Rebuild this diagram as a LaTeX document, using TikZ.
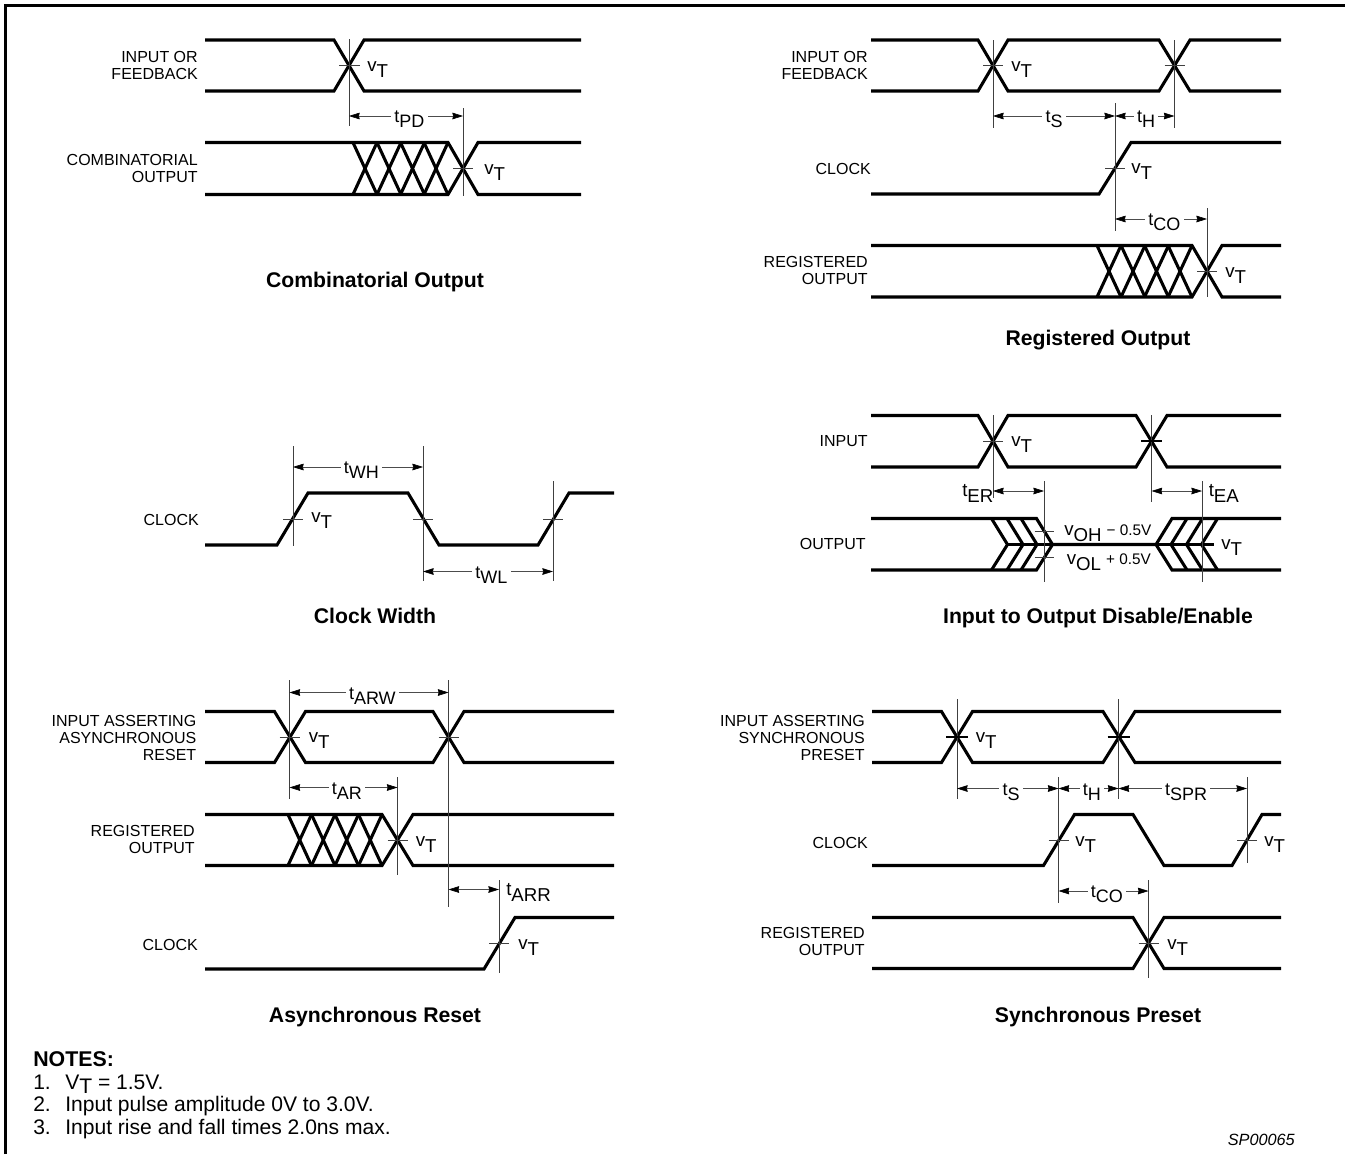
\documentclass[tikz,border=0pt]{standalone}
\usepackage{fontspec}
\setmainfont{Liberation Sans}
\usetikzlibrary{arrows.meta}
\newcommand{\vthr}{\raisebox{3.8pt}{v}T}
\newcommand{\tlbl}[1]{\raisebox{3.8pt}{t}#1}

\begin{document}
\begin{tikzpicture}[
    x=0.75pt, y=-0.75pt,
    wave/.style={line width=2.3pt},
    guide/.style={line width=0.5pt, black!75},
    tick/.style={line width=0.4pt, black!75},
    boldtick/.style={line width=2pt},
    dimline/.style={line width=0.45pt, black!70, {Stealth[length=8pt,width=5pt,inset=0.6pt,black]}-{Stealth[length=8pt,width=5pt,inset=0.6pt,black]}},
    siglabel/.style={anchor=east, align=right, inner sep=0pt, font=\fontsize{12}{12.75}\selectfont},
    thrlabel/.style={anchor=base west, inner sep=0pt, yshift=-1.5pt, text=black, font=\fontsize{14}{14}\selectfont},
    dimlabel/.style={fill=white, inner xsep=2.5pt, inner ysep=1pt, xshift=2.5pt, yshift=-2.5pt, text=black, font=\fontsize{13.5}{14}\selectfont},
    panelhead/.style={anchor=base, inner sep=0pt, font=\fontsize{15.9}{16}\selectfont\bfseries},
    notetext/.style={anchor=base west, inner sep=0pt, font=\fontsize{15.8}{16}\selectfont}
  ]
  \useasboundingbox (0,0) rectangle (1345,1154);
  \draw[line width=2.3pt] (5.7,1154) -- (5.7,5.5) -- (1345,5.5);

  % combinatorial output
  \node[siglabel] (combin) at (198,65.5) {INPUT OR\\FEEDBACK};
  \node[siglabel] (combout) at (198,168) {COMBINATORIAL\\OUTPUT};
  \draw[wave] (205,40) -- (334,40) -- (364,91) -- (581,91);
  \draw[wave] (205,91) -- (334,91) -- (364,40) -- (581,40);
  \draw[wave] (205,142.5) -- (448,142.5) -- (478,194.5) -- (581,194.5);
  \draw[wave] (205,194.5) -- (448,194.5) -- (478,142.5) -- (581,142.5);
  \foreach \x in {353,377,400.5,424}
    \draw[wave] (\x,142.5) -- ++(24,52) (\x,194.5) -- ++(24,-52);
  \draw[guide] (349,39) -- (349,126);
  \draw[guide] (463,108) -- (463,196);
  \draw[tick] (339,65) -- (360,65);
  \draw[tick] (453,168) -- (473,168);
  \draw[dimline] (349,116) -- node[dimlabel] (tpd) {\tlbl{PD}} (463,116);
  \node[thrlabel] (combvta) at (367,75) {\vthr};
  \node[thrlabel] (combvtb) at (484,178) {\vthr};
  \node[panelhead] (combhead) at (375,287.5) {Combinatorial Output};

  % registered output
  \node[siglabel] (regin) at (868,65.5) {INPUT OR\\FEEDBACK};
  \node[siglabel] (regclk) at (871,169) {CLOCK};
  \node[siglabel] (regout) at (868,270.5) {REGISTERED\\OUTPUT};
  \draw[wave] (871,40) -- (978,40) -- (1008,91) -- (1159,91) -- (1190,40) -- (1281,40);
  \draw[wave] (871,91) -- (978,91) -- (1008,40) -- (1159,40) -- (1190,91) -- (1281,91);
  \draw[wave] (871,194) -- (1099,194) -- (1131,142.5) -- (1281,142.5);
  \draw[wave] (871,245.5) -- (1192,245.5) -- (1222,297) -- (1281,297);
  \draw[wave] (871,297) -- (1192,297) -- (1222,245.5) -- (1281,245.5);
  \foreach \x in {1097,1121,1144.5,1168}
    \draw[wave] (\x,245.5) -- ++(24,51.5) (\x,297) -- ++(24,-51.5);
  \draw[guide] (993,40) -- (993,128);
  \draw[guide] (1174.5,40) -- (1174.5,128);
  \draw[guide] (1115,103) -- (1115,231);
  \draw[guide] (1207,208) -- (1207,297);
  \foreach \x in {993,1174.5}
    \draw[tick] (\x-10,65) -- (\x+10,65);
  \draw[tick] (1105,168) -- (1125,168);
  \draw[tick] (1197,271) -- (1217,271);
  \draw[dimline] (993,116) -- node[dimlabel, xshift=-2.5pt] (ts) {\tlbl{S}} (1115,116);
  \draw[dimline] (1115,116) -- node[dimlabel, xshift=-1.5pt] (th) {\tlbl{H}} (1174.5,116);
  \draw[dimline] (1115,219) -- node[dimlabel] (tco) {\tlbl{CO}} (1207,219);
  \node[thrlabel] (regvta) at (1011,75) {\vthr};
  \node[thrlabel] (regvtb) at (1131,177) {\vthr};
  \node[thrlabel] (regvtc) at (1225,281) {\vthr};
  \node[panelhead] (reghead) at (1098,345.5) {Registered Output};

  % clock width
  \node[siglabel] (widclk) at (199,520) {CLOCK};
  \draw[wave] (205,545) -- (277,545) -- (308,493) -- (408,493) -- (439,545) -- (538,545) -- (569,493) -- (614,493);
  \draw[guide] (293,446) -- (293,546);
  \draw[guide] (423,446) -- (423,581);
  \draw[guide] (553,481) -- (553,581);
  \foreach \x in {293,423,553}
    \draw[tick] (\x-10,519) -- (\x+10,519);
  \draw[dimline] (293,467) -- node[dimlabel] (twh) {\tlbl{WH}} (423,467);
  \draw[dimline] (423,571.5) -- node[dimlabel] (twl) {\tlbl{WL}} (553,571.5);
  \node[thrlabel] (widvt) at (311,526) {\vthr};
  \node[panelhead] (widhead) at (375,623.5) {Clock Width};

  % input to output disable/enable
  \node[siglabel] (enin) at (868,441) {INPUT};
  \node[siglabel] (enout) at (866,544) {OUTPUT};
  \draw[wave] (871,415.5) -- (978,415.5) -- (1008,467) -- (1136,467) -- (1167,415.5) -- (1281,415.5);
  \draw[wave] (871,467) -- (978,467) -- (1008,415.5) -- (1136,415.5) -- (1167,467) -- (1281,467);
  \draw[wave] (871,518.5) -- (1036.5,518.5) -- (1052.5,544.5) -- (1156,544.5) -- (1172,518.5) -- (1281,518.5);
  \draw[wave] (871,570) -- (1036.5,570) -- (1052.5,544.5) (1156,544.5) -- (1172,570) -- (1281,570);
  \draw[wave] (1052,544.5) -- (1008,544.5) (1156,544.5) -- (1214,544.5);
  \foreach \x in {991.5,1007,1021}
    \draw[wave] (\x,518.5) -- ++(16,26) -- ++(-16,25.5);
  \foreach \x in {1187,1202.5,1217.5}
    \draw[wave] (\x,518.5) -- ++(-16,26) -- ++(16,25.5);
  \draw[guide] (993,415) -- (993,498);
  \draw[guide] (1151.5,415) -- (1151.5,502);
  \draw[guide] (1044,481) -- (1044,582);
  \draw[guide] (1202,481) -- (1202,582);
  \draw[tick] (983,441) -- (1003,441);
  \draw[boldtick] (1141,441) -- (1162,441);
  \draw[tick] (1034.5,531) -- (1054,531);
  \draw[tick] (1034.5,557.5) -- (1054,557.5);
  \draw[dimline] (993,491) -- (1044,491);
  \draw[dimline] (1151.5,491) -- (1202,491);
  \node[thrlabel] (ter) at (962,500) {\tlbl{ER}};
  \node[thrlabel] (tea) at (1208.5,500) {\tlbl{EA}};
  \node[thrlabel] (envta) at (1011,450) {\vthr};
  \node[thrlabel] (envtb) at (1221,553) {\vthr};
  \node[thrlabel] (vohlbl) at (1064,539) {\raisebox{3.8pt}{v}OH\raisebox{3.8pt}{\fontsize{11.5}{11.5}\selectfont\,\,− 0.5V}};
  \node[thrlabel] (vollbl) at (1066.5,568) {\raisebox{3.8pt}{v}OL\raisebox{3.8pt}{\fontsize{11.5}{11.5}\selectfont\,\,+ 0.5V}};
  \node[panelhead] (enhead) at (1098,623.5) {Input to Output Disable/Enable};

  % asynchronous reset
  \node[siglabel] (arin) at (196.5,738) {INPUT ASSERTING\\ASYNCHRONOUS\\RESET};
  \node[siglabel] (arout) at (195,839.5) {REGISTERED\\OUTPUT};
  \node[siglabel] (arclk) at (198,945) {CLOCK};
  \draw[wave] (205,711.5) -- (274.5,711.5) -- (305.5,762.5) -- (433,762.5) -- (464,711.5) -- (614,711.5);
  \draw[wave] (205,762.5) -- (274.5,762.5) -- (305.5,711.5) -- (433,711.5) -- (464,762.5) -- (614,762.5);
  \draw[wave] (205,814.5) -- (382,814.5) -- (413,865.5) -- (614,865.5);
  \draw[wave] (205,865.5) -- (382,865.5) -- (413,814.5) -- (614,814.5);
  \foreach \x in {288,311.5,335,358.5}
    \draw[wave] (\x,814.5) -- ++(23.5,51) (\x,865.5) -- ++(23.5,-51);
  \draw[wave] (205,969) -- (484,969) -- (515,917.5) -- (614,917.5);
  \draw[guide] (289.5,680) -- (289.5,799);
  \draw[guide] (448.5,680) -- (448.5,907);
  \draw[guide] (397.5,777) -- (397.5,875);
  \draw[guide] (499,880) -- (499,973);
  \foreach \x in {289.5,448.5}
    \draw[tick] (\x-10,737) -- (\x+10,737);
  \draw[tick] (387.5,840) -- (407.5,840);
  \draw[tick] (489,943.5) -- (509,943.5);
  \draw[dimline] (289.5,692.5) -- node[dimlabel] (tarw) {\tlbl{ARW}} (448.5,692.5);
  \draw[dimline] (289.5,787.5) -- node[dimlabel] (tar) {\tlbl{AR}} (397.5,787.5);
  \draw[dimline] (448.5,889.5) -- (499,889.5);
  \node[thrlabel] (tarr) at (506,899) {\tlbl{ARR}};
  \node[thrlabel] (arvta) at (308.5,746) {\vthr};
  \node[thrlabel] (arvtb) at (415.5,850) {\vthr};
  \node[thrlabel] (arvtc) at (518,953) {\vthr};
  \node[panelhead] (arhead) at (375,1022.5) {Asynchronous Reset};

  % synchronous preset
  \node[siglabel] (spin) at (865,738) {INPUT ASSERTING\\SYNCHRONOUS\\PRESET};
  \node[siglabel] (spclk) at (868,843) {CLOCK};
  \node[siglabel] (spout) at (865,941.5) {REGISTERED\\OUTPUT};
  \draw[wave] (872,711.5) -- (941.5,711.5) -- (972.5,762.5) -- (1103,762.5) -- (1135,711.5) -- (1281,711.5);
  \draw[wave] (872,762.5) -- (941.5,762.5) -- (972.5,711.5) -- (1103,711.5) -- (1135,762.5) -- (1281,762.5);
  \draw[wave] (872,865.5) -- (1043.5,865.5) -- (1074.5,814.5) -- (1133,814.5) -- (1164,865.5) -- (1232,865.5) -- (1262,814.5) -- (1281,814.5);
  \draw[wave] (872,917.5) -- (1133,917.5) -- (1164,968.5) -- (1281,968.5);
  \draw[wave] (872,968.5) -- (1133,968.5) -- (1164,917.5) -- (1281,917.5);
  \draw[guide] (957,699) -- (957,799);
  \draw[guide] (1118.5,699) -- (1118.5,799);
  \draw[guide] (1058.5,777) -- (1058.5,903);
  \draw[guide] (1247,777) -- (1247,863);
  \draw[guide] (1148.5,880) -- (1148.5,978);
  \foreach \x in {957,1118.5}
    \draw[boldtick] (\x-11,737) -- (\x+11,737);
  \foreach \x in {1058.5,1247}
    \draw[tick] (\x-10,840) -- (\x+10,840);
  \draw[tick] (1138.5,943.5) -- (1158.5,943.5);
  \draw[dimline] (957,788.5) -- node[dimlabel] (tsb) {\tlbl{S}} (1058.5,788.5);
  \draw[dimline] (1058.5,788.5) -- node[dimlabel] (thb) {\tlbl{H}} (1118.5,788.5);
  \draw[dimline] (1118.5,788.5) -- node[dimlabel] (tspr) {\tlbl{SPR}} (1247,788.5);
  \draw[dimline] (1058.5,891) -- node[dimlabel] (tcob) {\tlbl{CO}} (1148.5,891);
  \node[thrlabel] (spvta) at (975.5,746) {\vthr};
  \node[thrlabel] (spvtb) at (1075,850) {\vthr};
  \node[thrlabel] (spvtc) at (1264,850) {\vthr};
  \node[thrlabel] (spvtd) at (1167,953) {\vthr};
  \node[panelhead] (sphead) at (1098,1022.5) {Synchronous Preset};

  % notes
  \node[notetext, font=\fontsize{16}{16}\selectfont\bfseries] (notehead) at (33,1066) {NOTES:};
  \node[notetext] (noteanum) at (33,1089) {1.};
  \node[notetext] (noteatxt) at (65,1089) {V\raisebox{-3pt}{T} = 1.5V.};
  \node[notetext] (notebnum) at (33,1111.5) {2.};
  \node[notetext] (notebtxt) at (65,1111.5) {Input pulse amplitude 0V to 3.0V.};
  \node[notetext] (notecnum) at (33,1134) {3.};
  \node[notetext] (notectxt) at (65,1134) {Input rise and fall times 2.0ns max.};
  \node[anchor=base east, inner sep=0pt, font=\fontsize{12.2}{12}\selectfont\itshape] (figcode) at (1295,1145) {SP00065};
\end{tikzpicture}
\end{document}
